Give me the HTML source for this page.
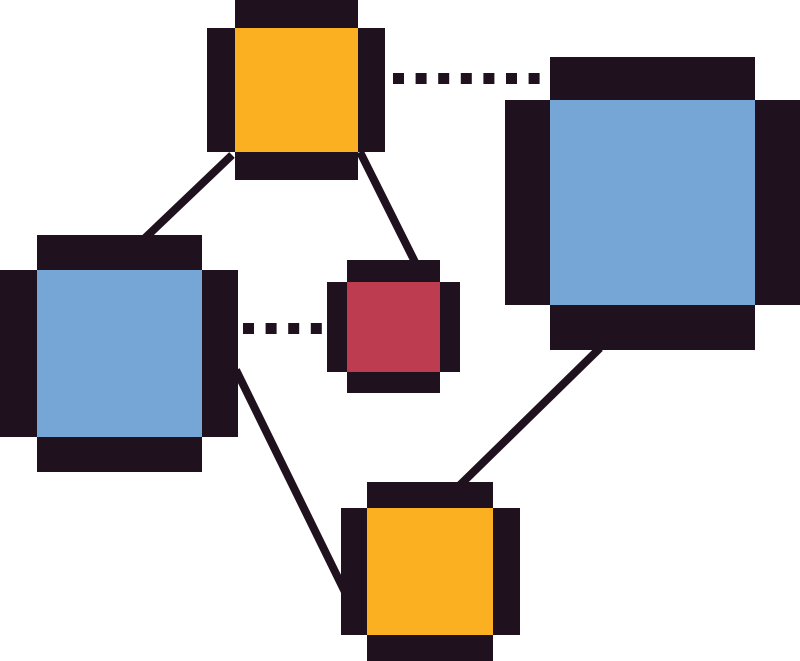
<!DOCTYPE html>
<html><head><style>html,body{margin:0;padding:0;background:#fff;}</style></head>
<body>
<svg width="800" height="661" viewBox="0 0 800 661" xmlns="http://www.w3.org/2000/svg" style="display:block">
<g stroke="#1f111d" stroke-width="8" fill="none">
<line x1="232" y1="155" x2="145" y2="238"/>
<line x1="360" y1="152" x2="415" y2="262"/>
<line x1="236" y1="370" x2="345" y2="592"/>
<line x1="600" y1="348" x2="460" y2="485"/>
<line x1="393" y1="78.5" x2="545" y2="78.5" stroke-width="11" stroke-dasharray="11 11.6"/>
<line x1="243" y1="328.5" x2="325" y2="328.5" stroke-width="11" stroke-dasharray="11 11.6"/>
</g>
<g fill="#1f111d">
<!-- top orange -->
<rect x="235" y="0" width="123" height="180"/>
<rect x="207" y="28" width="178" height="124"/>
<!-- right blue -->
<rect x="550" y="57" width="205" height="293"/>
<rect x="505" y="100" width="295" height="205"/>
<!-- left blue -->
<rect x="37" y="235" width="165" height="237"/>
<rect x="0" y="270" width="238" height="167"/>
<!-- red -->
<rect x="347" y="260" width="93" height="133"/>
<rect x="327" y="282" width="133" height="90"/>
<!-- bottom orange -->
<rect x="367" y="482" width="126" height="179"/>
<rect x="341" y="508" width="179" height="127"/>
</g>
<rect x="235" y="28" width="123" height="124" fill="#fbb022"/>
<rect x="550" y="100" width="205" height="205" fill="#76a6d6"/>
<rect x="37" y="270" width="165" height="167" fill="#76a6d6"/>
<rect x="347" y="282" width="93" height="90" fill="#bd3c50"/>
<rect x="367" y="508" width="126" height="127" fill="#fbb022"/>
</svg>
</body></html>
